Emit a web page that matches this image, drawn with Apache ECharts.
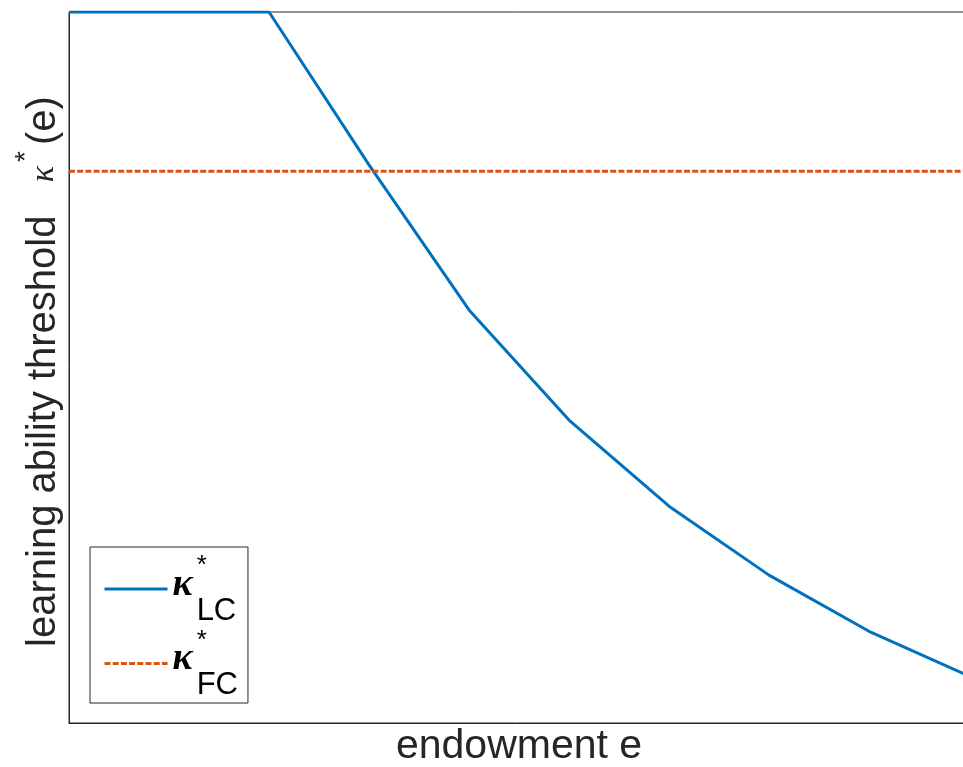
<!DOCTYPE html>
<html>
<head>
<meta charset="utf-8">
<script src="https://cdn.jsdelivr.net/npm/echarts@6/dist/echarts.min.js"></script>
<style>
html,body{margin:0;padding:0;background:#fff;}
#chart{width:963px;height:767px;}
</style>
</head>
<body>
<div id="chart"></div>
<script>
// endowment e (x positions of computed points)
const endowment = [0, 1, 2, 3, 4, 5, 6, 7, 8, 9];
// threshold kappa*_LC(e) (blue, solid)
const kappaLC = [1.0, 1.0, 1.0, 0.785, 0.581, 0.426, 0.305, 0.208, 0.129, 0.066];
// threshold kappa*_FC (orange, dashed)
const kappaFC = [0.776, 0.776, 0.776, 0.776, 0.776, 0.776, 0.776, 0.776, 0.776, 0.776];
const seriesNames = ['LC', 'FC'];
const xAxisTitle = 'endowment e';
const yAxisTitleMain = 'learning ability threshold   ';

const pair = (xs, ys) => xs.map((x, i) => [x, ys[i]]);
const textColor = '#262626';
const baseFont = 'Liberation Sans, Arial, Helvetica, sans-serif';

const chart = echarts.init(document.getElementById('chart'));
chart.setOption({
  animation: false,
  backgroundColor: '#ffffff',
  grid: {
    left: 69, top: 12, right: -6, bottom: 44,
    outerBoundsMode: 'none', containLabel: false,
    show: true, borderColor: textColor, borderWidth: 1, backgroundColor: 'transparent'
  },
  xAxis: {
    type: 'value', min: 0, max: 9,
    axisLine: { show: true, lineStyle: { color: textColor, width: 1 } },
    axisTick: { show: false }, axisLabel: { show: false }, splitLine: { show: false },
    name: xAxisTitle, nameLocation: 'middle', nameGap: 3,
    nameTextStyle: { color: textColor, fontSize: 41, fontFamily: baseFont }
  },
  yAxis: {
    type: 'value', min: 0, max: 1,
    axisLine: { show: true, lineStyle: { color: textColor, width: 1 } },
    axisTick: { show: false }, axisLabel: { show: false }, splitLine: { show: false },
    name: '{t|' + yAxisTitleMain + '}{k|κ}{s|*}{t|(e)}',
    nameLocation: 'middle', nameGap: 5,
    nameTextStyle: {
      color: textColor, fontSize: 40, fontFamily: baseFont, padding: [0, 8, 0, 0],
      rich: {
        t: { fontSize: 40, fontFamily: baseFont, color: textColor, height: 40, lineHeight: 40, verticalAlign: 'bottom' },
        k: { fontSize: 34, fontFamily: 'Liberation Serif, serif', fontStyle: 'italic', color: textColor, height: 40, lineHeight: 40, verticalAlign: 'bottom', padding: [0, 4, 0, 0] },
        s: { fontSize: 28, fontFamily: baseFont, color: textColor, height: 16, lineHeight: 46, verticalAlign: 'top', padding: [0, 6, 0, 0] }
      }
    }
  },
  legend: {
    left: 90, top: 547, orient: 'vertical',
    backgroundColor: '#ffffff', borderColor: textColor, borderWidth: 1, borderRadius: 0,
    padding: [6, 10, 2, 13], itemGap: 1, itemWidth: 63, itemHeight: 14,
    itemStyle: { opacity: 0 },
    lineStyle: { width: 3 },
    data: seriesNames,
    formatter: function (name) { return '{k|κ}{s|*}{b|' + name + '}'; },
    textStyle: {
      color: '#000', fontSize: 30, fontFamily: baseFont,
      rich: {
        k: { fontSize: 38, fontFamily: 'Liberation Serif, serif', fontStyle: 'italic', fontWeight: 'bold', color: '#000', height: 44, lineHeight: 44, verticalAlign: 'middle', padding: [0, 4, 8, 0] },
        s: { fontSize: 26, fontFamily: baseFont, color: '#000', height: 18, lineHeight: 64, width: 0, verticalAlign: 'top' },
        b: { fontSize: 31, fontFamily: baseFont, color: '#000', height: 20, lineHeight: 20, verticalAlign: 'bottom' }
      }
    }
  },
  series: [
    {
      name: seriesNames[0], type: 'line', data: pair(endowment, kappaLC),
      symbol: 'none', color: '#0072BD',
      lineStyle: { color: '#0072BD', width: 3 }
    },
    {
      name: seriesNames[1], type: 'line', data: pair(endowment, kappaFC),
      symbol: 'none', color: '#D95319',
      lineStyle: { color: '#D95319', width: 3, type: [6, 2.2] }
    }
  ]
});
</script>
</body>
</html>
